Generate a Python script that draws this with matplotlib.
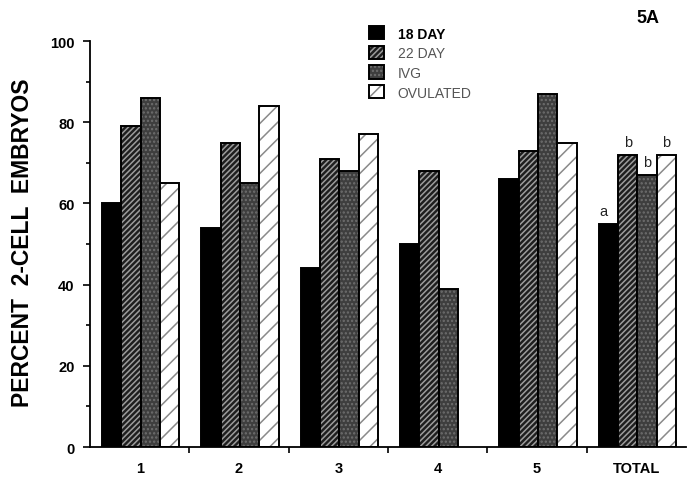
import numpy as np
import matplotlib
matplotlib.use("Agg")
import matplotlib.pyplot as plt
from matplotlib.patches import Patch

plt.rcParams['font.family'] = ['Liberation Sans', 'DejaVu Sans']
plt.rcParams['hatch.linewidth'] = 1.1

# data
groups = ["1", "2", "3", "4", "5", "TOTAL"]
series = ["18 DAY", "22 DAY", "IVG", "OVULATED"]
day18 = [60, 54, 44, 50, 66, 55]
day22 = [79, 75, 71, 68, 73, 72]
ivg = [86, 65, 68, 39, 87, 67]
ovulated = [65, 84, 77, np.nan, 75, 72]
total_letters = ["a", "b", "b", "b"]

values = [day18, day22, ivg, ovulated]
faces = ["black", "#1e1e1e", "#3e3e3e", "white"]
hatch_colors = ["black", "#9c9c9c", "#6e6e6e", "#8a8a8a"]
hatches = [None, "//////", "....", "//"]

fig = plt.figure(figsize=(6.89, 4.81), dpi=100)
ax = fig.add_axes([0.1306, 0.0686, 0.865, 0.844])

centers = np.arange(len(groups)) + 0.5
width = 0.195
offsets = (np.arange(4) - 1.5) * width + 0.01

handles = []
for i in range(4):
    xs = centers + offsets[i]
    ax.bar(xs, values[i], width, color=faces[i], edgecolor=hatch_colors[i],
           hatch=hatches[i], linewidth=0)
    ax.bar(xs, values[i], width, fill=False, edgecolor="black", linewidth=1.4)
    h1 = Patch(facecolor=faces[i], edgecolor=hatch_colors[i], hatch=hatches[i], linewidth=0)
    h2 = Patch(fill=False, edgecolor="black", linewidth=1.4)
    handles.append((h1, h2))

# significance letters over TOTAL
last = len(groups) - 1
for i in range(4):
    dx = -0.05 if i == 0 else 0
    ax.text(centers[last] + offsets[i] + dx, values[i][last] + 1.5, total_letters[i],
            ha="center", va="bottom", fontsize=10.5, color="#222222")

ax.set_xlim(0, len(groups))
ax.set_ylim(0, 100)
ax.spines["top"].set_visible(False)
ax.spines["right"].set_visible(False)
ax.spines["left"].set_linewidth(1.3)
ax.spines["bottom"].set_linewidth(1.3)

ax.set_yticks([0, 20, 40, 60, 80, 100])
ax.set_yticks(np.arange(10, 100, 20), minor=True)
ax.tick_params(axis="y", which="major", direction="out", length=5, width=1.2, pad=6)
ax.tick_params(axis="y", which="minor", direction="out", length=3, width=1.2)
ax.set_yticklabels(["0", "20", "40", "60", "80", "100"], fontweight="bold", fontsize=10.5)

ax.set_xticks(centers)
ax.set_xticklabels(groups, fontweight="bold", fontsize=10.5)
ax.tick_params(axis="x", which="major", length=0, pad=10)
ax.set_xticks(np.arange(1, len(groups)), minor=True)
ax.tick_params(axis="x", which="minor", direction="out", length=4, width=1.2)

ax.set_ylabel("PERCENT  2-CELL  EMBRYOS", fontweight="bold", fontsize=16.5, va="center")
ax.yaxis.set_label_coords(-0.114, 0.506)

leg = ax.legend(handles, series, loc="upper left", bbox_to_anchor=(0.525, 0.958),
                bbox_transform=fig.transFigure, frameon=False, fontsize=10,
                handlelength=1.1, handleheight=1.1, handletextpad=1.0,
                labelspacing=0.38, borderpad=0)
for j, t in enumerate(leg.get_texts()):
    if j == 0:
        t.set_fontweight("bold")
        t.set_color("black")
    else:
        t.set_color("#555555")

fig.text(0.94, 0.962, "5A", fontweight="bold", fontsize=13, ha="center", va="center")

fig.savefig("out.png", dpi=100)
